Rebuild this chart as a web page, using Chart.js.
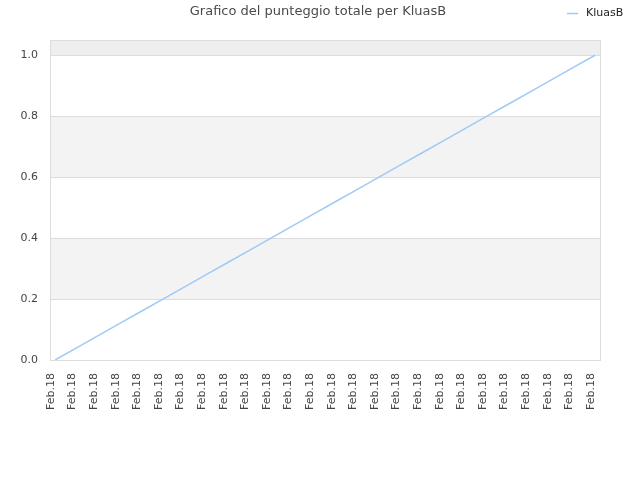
<!DOCTYPE html>
<html>
<head>
<meta charset="utf-8">
<script src="https://cdn.jsdelivr.net/npm/chart.js@4/dist/chart.umd.min.js"></script>
<style>
  html, body { margin: 0; padding: 0; background: #fff; }
  #wrap { width: 640px; height: 480px; }
</style>
</head>
<body>
<div id="wrap"><canvas id="chart" width="640" height="480"></canvas></div>
<script>
const title = "Grafico del punteggio totale per KluasB";
const seriesName = "KluasB";
const labels = [
  "Feb.18", "Feb.18", "Feb.18", "Feb.18", "Feb.18", "Feb.18", "Feb.18",
  "Feb.18", "Feb.18", "Feb.18", "Feb.18", "Feb.18", "Feb.18", "Feb.18",
  "Feb.18", "Feb.18", "Feb.18", "Feb.18", "Feb.18", "Feb.18", "Feb.18",
  "Feb.18", "Feb.18", "Feb.18", "Feb.18", "Feb.18"
];
const scores = [
  0, 0.04, 0.08, 0.12, 0.16, 0.2, 0.24, 0.28, 0.32, 0.36, 0.4, 0.44, 0.48,
  0.52, 0.56, 0.6, 0.64, 0.68, 0.72, 0.76, 0.8, 0.84, 0.88, 0.92, 0.96, 1.0
];
const yTicks = [0, 0.2, 0.4, 0.6, 0.8, 1.0];

const lineColor = "rgb(158, 202, 245)";
const inset = 5;

// bands, grid lines and frame, a bit wider than the chart area
const backdrop = {
  id: "backdrop",
  beforeDatasetsDraw(chart) {
    const { ctx, chartArea: a, scales } = chart;
    const y = scales.y;
    const left = a.left - inset;
    const right = a.right + inset;
    ctx.save();
    const bands = [[0.2, 0.4, "#f3f3f3"], [0.6, 0.8, "#f3f3f3"], [1.0, y.max, "#eeeeee"]];
    bands.forEach(([lo, hi, c]) => {
      const top = y.getPixelForValue(hi);
      const bot = y.getPixelForValue(lo);
      ctx.fillStyle = c;
      ctx.fillRect(left, top, right - left, bot - top);
    });
    ctx.strokeStyle = "#dddddd";
    ctx.lineWidth = 1;
    yTicks.forEach((v) => {
      const py = Math.round(y.getPixelForValue(v)) + 0.5;
      ctx.beginPath();
      ctx.moveTo(left, py);
      ctx.lineTo(right, py);
      ctx.stroke();
    });
    ctx.strokeRect(Math.round(left) + 0.5, Math.round(a.top) + 0.5,
      Math.round(right - left), Math.round(a.bottom - a.top));
    ctx.restore();
  },
  afterDraw(chart) {
    const { ctx } = chart;
    ctx.save();
    ctx.font = "13px 'DejaVu Sans'";
    ctx.fillStyle = "#4a4a4a";
    ctx.textAlign = "center";
    ctx.textBaseline = "middle";
    ctx.fillText(title, 318, 12);
    ctx.strokeStyle = lineColor;
    ctx.lineWidth = 1.5;
    ctx.beginPath();
    ctx.moveTo(567, 13.5);
    ctx.lineTo(578, 13.5);
    ctx.stroke();
    ctx.font = "11px 'DejaVu Sans'";
    ctx.fillStyle = "#222";
    ctx.textAlign = "left";
    ctx.fillText(seriesName, 586, 13);
    ctx.restore();
  }
};

new Chart(document.getElementById("chart").getContext("2d"), {
  type: "line",
  data: {
    labels: labels,
    datasets: [
      {
        label: seriesName,
        data: scores,
        borderColor: lineColor,
        backgroundColor: lineColor,
        borderWidth: 1.5,
        pointRadius: 0,
        tension: 0,
        fill: false,
      },
    ],
  },
  options: {
    responsive: false,
    animation: false,
    layout: { padding: { top: 40, right: 45, left: 0, bottom: 0 } },
    plugins: {
      legend: { display: false },
      title: { display: false },
      tooltip: { enabled: false },
    },
    scales: {
      x: {
        offset: false,
        grid: { display: false, drawTicks: false },
        border: { display: false },
        ticks: {
          autoSkip: false,
          maxRotation: 90,
          minRotation: 90,
          padding: 13,
          labelOffset: -4,
          color: "#444",
          font: { family: "'DejaVu Sans'", size: 11 },
        },
        afterFit(scale) { scale.height = 120; },
      },
      y: {
        min: 0,
        max: 1.05,
        grid: { display: false, drawTicks: false },
        border: { display: false },
        ticks: {
          stepSize: 0.2,
          includeBounds: false,
          padding: 17,
          color: "#444",
          font: { family: "'DejaVu Sans'", size: 11 },
          callback: (v) => v.toFixed(1),
        },
        afterFit(scale) { scale.width = 55; },
      },
    },
  },
  plugins: [backdrop],
});
</script>
</body>
</html>
